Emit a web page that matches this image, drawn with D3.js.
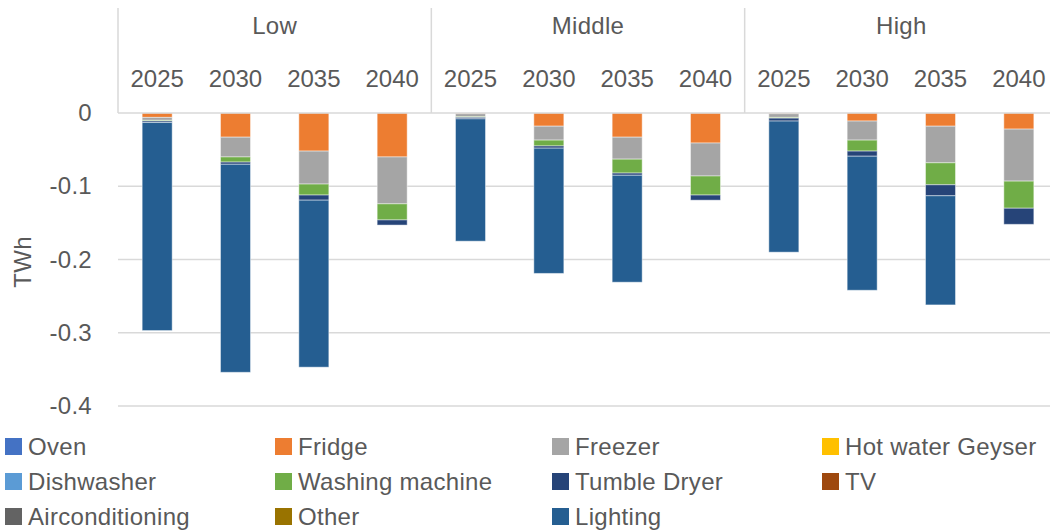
<!DOCTYPE html>
<html>
<head>
<meta charset="utf-8">
<script src="https://cdn.jsdelivr.net/npm/d3@7"></script>
<style>
  html, body { margin: 0; padding: 0; background: #fff; }
  svg { display: block; }
  text { font-family: "Liberation Sans", Arial, sans-serif; fill: #595959; font-size: 24px; letter-spacing: 0.3px; }
</style>
</head>
<body>
<svg id="chart" width="1050" height="531"></svg>
<script>
// Scenario groups and the years inside each group
const groups = ["Low", "Middle", "High"];
const years = ["2025", "2030", "2035", "2040"];

// Savings per appliance (TWh), one entry per group/year in order Low, Middle, High
const oven            = [0, 0, 0, 0,            0, 0, 0, 0,            0, 0, 0, 0];
const fridge          = [-0.006, -0.033, -0.052, -0.060,  -0.001, -0.018, -0.033, -0.041,  -0.001, -0.011, -0.018, -0.022];
const freezer         = [-0.004, -0.027, -0.045, -0.064,  -0.004, -0.019, -0.030, -0.045,  -0.005, -0.026, -0.050, -0.071];
const hotWaterGeyser  = [0, 0, 0, 0,            0, 0, 0, 0,            0, 0, 0, 0];
const dishwasher      = [0, 0, 0, 0,            0, 0, 0, 0,            0, 0, 0, 0];
const washingMachine  = [-0.001, -0.007, -0.015, -0.022,  -0.001, -0.008, -0.019, -0.026,  -0.001, -0.015, -0.030, -0.037];
const tumbleDryer     = [-0.002, -0.003, -0.007, -0.007,  -0.002, -0.003, -0.003, -0.007,  -0.004, -0.007, -0.015, -0.022];
const tv              = [0, 0, 0, 0,            0, 0, 0, 0,            0, 0, 0, 0];
const airconditioning = [0, 0, 0, 0,            0, 0, 0, 0,            0, 0, 0, 0];
const other           = [0, 0, 0, 0,            0, 0, 0, 0,            0, 0, 0, 0];
const lighting        = [-0.284, -0.284, -0.228, 0,  -0.167, -0.171, -0.146, 0,  -0.179, -0.183, -0.149, 0];

// Y axis tick values and their labels
const tickValues = [0, -0.1, -0.2, -0.3, -0.4];
const tickLabels = ["0", "-0.1", "-0.2", "-0.3", "-0.4"];

const series = [
  { name: "Oven",             values: oven,            color: "#4472C4" },
  { name: "Fridge",           values: fridge,          color: "#ED7D31" },
  { name: "Freezer",          values: freezer,         color: "#A5A5A5" },
  { name: "Hot water Geyser", values: hotWaterGeyser,  color: "#FFC000" },
  { name: "Dishwasher",       values: dishwasher,      color: "#5B9BD5" },
  { name: "Washing machine",  values: washingMachine,  color: "#70AD47" },
  { name: "Tumble Dryer",     values: tumbleDryer,     color: "#264478" },
  { name: "TV",               values: tv,              color: "#9E480E" },
  { name: "Airconditioning",  values: airconditioning, color: "#636363" },
  { name: "Other",            values: other,           color: "#997300" },
  { name: "Lighting",         values: lighting,        color: "#255E91" }
];

// One row per bar
const rows = [];
groups.forEach((g, gi) => years.forEach((y, yi) => {
  const i = gi * years.length + yi;
  const row = { key: g + " " + y, group: g, year: y };
  series.forEach(s => { row[s.name] = s.values[i]; });
  rows.push(row);
}));

const svg = d3.select("#chart");
const plotLeft = 118, plotRight = 1058, axisTop = 8;

const x = d3.scaleBand()
  .domain(rows.map(r => r.key))
  .range([plotLeft, plotRight])
  .paddingInner(0.617)
  .paddingOuter(0.3085);

const y = d3.scaleLinear().domain([-0.4, 0]).range([406, 113]);

const gxGroup = d3.scaleBand().domain(groups).range([plotLeft, plotRight]);

// Gridlines
svg.append("g").selectAll("line")
  .data(tickValues.filter(v => v !== 0))
  .join("line")
  .attr("x1", plotLeft).attr("x2", plotRight)
  .attr("y1", d => y(d)).attr("y2", d => y(d))
  .attr("stroke", "#D9D9D9").attr("stroke-width", 1.5);

// Stacked bars (negative values stack downward from zero)
const stack = d3.stack()
  .keys(series.map(s => s.name))
  .offset(d3.stackOffsetDiverging);
const stacked = stack(rows);

const layers = svg.append("g").selectAll("g")
  .data(stacked)
  .join("g")
  .attr("fill", (d, i) => series[i].color);

layers.selectAll("rect")
  .data(d => d.filter(p => p[1] - p[0] !== 0))
  .join("rect")
  .attr("x", d => x(d.data.key))
  .attr("width", x.bandwidth())
  .attr("y", d => y(Math.max(d[0], d[1])))
  .attr("height", d => Math.abs(y(d[0]) - y(d[1])))
  .attr("stroke", "#ffffff")
  .attr("stroke-opacity", 0.45)
  .attr("stroke-width", 1);

// Category axis frame along zero, with dividers between groups
const frame = svg.append("g").attr("stroke", "#D9D9D9").attr("stroke-width", 1.5);
frame.append("line")
  .attr("x1", plotLeft).attr("x2", plotRight)
  .attr("y1", y(0)).attr("y2", y(0));
frame.selectAll("line.div")
  .data(groups.map(g => gxGroup(g)).concat([plotRight]))
  .join("line")
  .attr("class", "div")
  .attr("x1", d => d).attr("x2", d => d)
  .attr("y1", axisTop).attr("y2", y(0));

// Year labels
svg.append("g").selectAll("text")
  .data(rows)
  .join("text")
  .attr("x", d => x(d.key) + x.bandwidth() / 2)
  .attr("y", 87)
  .attr("text-anchor", "middle")
  .style("letter-spacing", "0px")
  .text(d => d.year);

// Group labels
svg.append("g").selectAll("text")
  .data(groups)
  .join("text")
  .attr("x", d => gxGroup(d) + gxGroup.bandwidth() / 2)
  .attr("y", 34)
  .attr("text-anchor", "middle")
  .text(d => d);

// Value axis
const yAxis = d3.axisLeft(y)
  .tickValues(tickValues)
  .tickSize(0)
  .tickPadding(0)
  .tickFormat((d, i) => tickLabels[i]);
const ya = svg.append("g").attr("transform", "translate(92,0)").call(yAxis);
ya.select(".domain").remove();
ya.selectAll("text")
  .style("font-family", "'Liberation Sans', Arial, sans-serif")
  .style("font-size", "24px")
  .attr("fill", "#595959");

svg.append("text")
  .attr("transform", "translate(31,262) rotate(-90)")
  .attr("text-anchor", "middle")
  .text("TWh");

// Legend: four columns, filled row by row
const legendColX = [5, 275, 552, 822];
const legendRowY = [446.5, 481.5, 516.5];
const legend = svg.append("g").selectAll("g")
  .data(series)
  .join("g")
  .attr("transform", (d, i) => `translate(${legendColX[i % 4]},${legendRowY[Math.floor(i / 4)]})`);
legend.append("rect")
  .attr("x", 0).attr("y", -8.5)
  .attr("width", 17).attr("height", 17)
  .attr("fill", d => d.color);
legend.append("text")
  .attr("x", 23).attr("y", 8.5)
  .text(d => d.name);
</script>
</body>
</html>
